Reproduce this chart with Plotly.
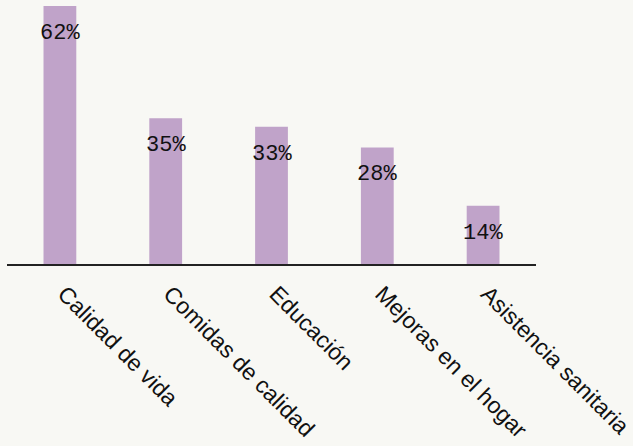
import plotly.graph_objects as go

categories = ["Calidad de vida", "Comidas de calidad", "Educación", "Mejoras en el hogar", "Asistencia sanitaria"]
values = [62, 35, 33, 28, 14]
labels = ["62%", "35%", "33%", "28%", "14%"]

bar_color = "#c0a3c9"
bg = "#f8f8f4"

fig = go.Figure()
fig.add_trace(go.Bar(
    x=categories, y=values,
    marker=dict(color=bar_color, line=dict(width=0)),
    width=0.31,
    hoverinfo="skip",
))

for c, v, t in zip(categories, values, labels):
    fig.add_annotation(
        x=c, y=v, text=t, showarrow=False,
        yanchor="top", yshift=-13,
        font=dict(family="Liberation Mono", size=22, color="#111111"),
    )

fig.update_layout(
    width=633, height=446,
    paper_bgcolor=bg, plot_bgcolor=bg,
    margin=dict(l=7, r=97, t=6, b=182, autoexpand=False),
    showlegend=False,
    xaxis=dict(
        showline=True, linecolor="#222222", linewidth=1.5,
        showgrid=False, zeroline=False, ticks="",
        automargin=False,
        tickangle=45, ticklabelstandoff=1,
        tickvals=categories,
        ticktext=["\u00a0" + c for c in categories],
        tickfont=dict(family="Liberation Sans", size=23, color="#111111"),
        range=[-0.5, 4.5],
    ),
    yaxis=dict(
        range=[0, 62], visible=False, showgrid=False, zeroline=False,
        automargin=False,
    ),
)

fig.write_html(
    "out.html",
    config={"displayModeBar": False},
    post_script="document.body.style.margin='0';document.body.style.background='%s';" % bg,
)
